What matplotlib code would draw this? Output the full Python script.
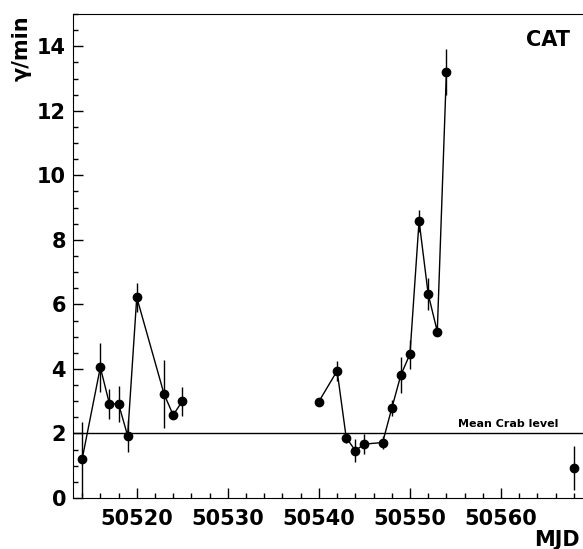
import matplotlib
matplotlib.use('Agg')
import matplotlib.pyplot as plt
from matplotlib.ticker import MultipleLocator

# Light curve data (MJD, gamma rate per minute, error)
mjd_a = [50514, 50516, 50517, 50518, 50519, 50520, 50523, 50524, 50525]
rate_a = [1.2, 4.05, 2.92, 2.92, 1.93, 6.22, 3.22, 2.57, 3.0]
err_a = [1.15, 0.75, 0.47, 0.55, 0.5, 0.45, 1.05, 0.1, 0.45]

mjd_b = [50540, 50542, 50543, 50544, 50545, 50547, 50548, 50549, 50550,
         50551, 50552, 50553, 50554]
rate_b = [2.99, 3.94, 1.87, 1.47, 1.67, 1.72, 2.78, 3.81, 4.46,
          8.59, 6.32, 5.16, 13.2]
err_b = [0.1, 0.3, 0.15, 0.35, 0.3, 0.2, 0.25, 0.55, 0.45,
         0.35, 0.5, 0.1, 0.7]

mjd_c = [50568]
rate_c = [0.94]
err_c = [0.68]

crab_level = 2.0

fig = plt.figure(figsize=(5.83, 5.49), dpi=100)
ax = fig.add_axes([73 / 583, 1 - 498 / 549, 1 - 73 / 583, (498 - 14) / 549])

style = dict(fmt='o', color='black', ms=6, lw=1, elinewidth=1, capsize=0)
ax.errorbar(mjd_a, rate_a, yerr=err_a, linestyle='-', **style)
ax.errorbar(mjd_b, rate_b, yerr=err_b, linestyle='-', **style)
ax.errorbar(mjd_c, rate_c, yerr=err_c, linestyle='none', **style)

# mean Crab level
ax.axhline(crab_level, color='black', lw=1)
ax.text(50566.3, crab_level + 0.15, 'Mean Crab level', fontsize=8,
        fontweight='bold', ha='right', va='bottom')

ax.text(50567.6, 14.2, 'CAT', fontsize=15, fontweight='bold',
        ha='right', va='center')

ax.set_xlim(50513, 50569)
ax.set_ylim(0, 15)
ax.xaxis.set_major_locator(MultipleLocator(10))
ax.xaxis.set_minor_locator(MultipleLocator(2))
ax.yaxis.set_major_locator(MultipleLocator(2))
ax.yaxis.set_minor_locator(MultipleLocator(0.5))
ax.tick_params(which='both', direction='in', labelsize=15, width=1)
ax.tick_params(which='major', length=7)
ax.tick_params(which='minor', length=3.5)
ax.tick_params(axis='x', pad=8)
ax.tick_params(axis='y', pad=5)
for lab in ax.get_xticklabels() + ax.get_yticklabels():
    lab.set_fontweight('bold')
ax.spines['right'].set_visible(False)

fig.text(580 / 583, 1 - 540 / 549, 'MJD', fontsize=15, fontweight='bold',
         ha='right', va='center')
fig.text(22 / 583, 1 - 15 / 549, 'γ/min', fontsize=15, fontweight='bold',
         rotation=90, ha='center', va='top')

fig.savefig('out.png', dpi=100)
